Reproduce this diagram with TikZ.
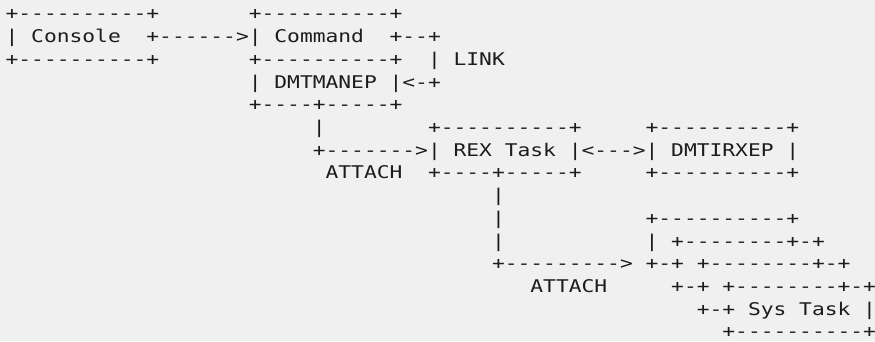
\documentclass[tikz,border=0pt]{standalone}
\usepackage{fontspec}
\setmonofont{DejaVu Sans Mono}[FakeStretch=1.215]
\definecolor{paper}{HTML}{F0F0F0}
\definecolor{ink}{HTML}{1C1C1C}

% one fragment of the character chart: row, column, text
\newcommand\chunk[3]{%
  \node[ascii] (r#1c#2) at ({5.6+#2*12.8},{321-(#1-1)*22.7}) {#3};}

\begin{document}
\begin{tikzpicture}[x=1pt,y=1pt,
  ascii/.style={anchor=base west, inner sep=0pt, outer sep=0pt, text=ink,
                font=\ttfamily\fontsize{17.5}{20}\selectfont}]
\fill[paper] (0,0) rectangle (875,341);
\useasboundingbox (0,0) rectangle (875,341);

% Console -> Command / DMTMANEP
\chunk{1}{0}{+----------+}
\chunk{1}{19}{+----------+}
\chunk{2}{0}{|}
\chunk{2}{2}{Console}
\chunk{2}{11}{+------>|}
\chunk{2}{21}{Command}
\chunk{2}{30}{+--+}
\chunk{3}{0}{+----------+}
\chunk{3}{19}{+----------+}
\chunk{3}{33}{|}
\chunk{3}{35}{LINK}
\chunk{4}{19}{|}
\chunk{4}{21}{DMTMANEP}
\chunk{4}{30}{|<-+}
\chunk{5}{19}{+----+-----+}

% REX Task <-> DMTIRXEP
\chunk{6}{24}{|}
\chunk{6}{33}{+----------+}
\chunk{6}{50}{+----------+}
\chunk{7}{24}{+------->|}
\chunk{7}{35}{REX}
\chunk{7}{39}{Task}
\chunk{7}{44}{|<--->|}
\chunk{7}{52}{DMTIRXEP}
\chunk{7}{61}{|}
\chunk{8}{25}{ATTACH}
\chunk{8}{33}{+----+-----+}
\chunk{8}{50}{+----------+}

% stacked Sys Task boxes
\chunk{9}{38}{|}
\chunk{10}{38}{|}
\chunk{10}{50}{+----------+}
\chunk{11}{38}{|}
\chunk{11}{50}{|}
\chunk{11}{52}{+--------+-+}
\chunk{12}{38}{+--------->}
\chunk{12}{50}{+-+}
\chunk{12}{54}{+--------+-+}
\chunk{13}{41}{ATTACH}
\chunk{13}{52}{+-+}
\chunk{13}{56}{+--------+-+}
\chunk{14}{54}{+-+}
\chunk{14}{58}{Sys}
\chunk{14}{62}{Task}
\chunk{14}{67}{|}
\chunk{15}{56}{+----------+}
\end{tikzpicture}
\end{document}
